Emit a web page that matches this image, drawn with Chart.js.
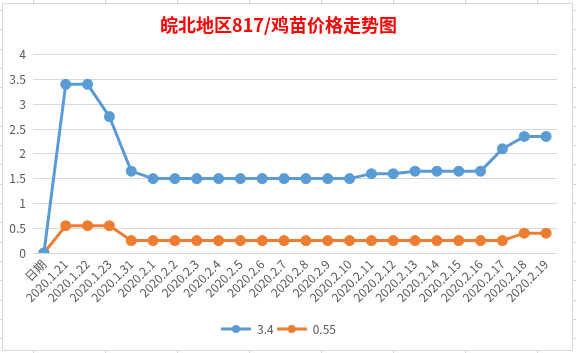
<!DOCTYPE html>
<html lang="zh">
<head>
    <meta charset="UTF-8">
    <title>皖北地区817/鸡苗价格走势图</title>
    <script src="https://cdn.jsdelivr.net/npm/chart.js"></script>
    <style>
        html, body {
            margin: 0;
            padding: 0;
            background: #fff;
        }
        .chart-container {
            width: 576px;
            height: 353px;
            position: relative;
        }
    </style>
</head>
<body>
    <div class="chart-container">
        <canvas id="lineChart"></canvas>
    </div>

    <script>
        // datos
        const categories = ['日期', '2020.1.21', '2020.1.22', '2020.1.23', '2020.1.31', '2020.2.1', '2020.2.2',
            '2020.2.3', '2020.2.4', '2020.2.5', '2020.2.6', '2020.2.7', '2020.2.8', '2020.2.9', '2020.2.10',
            '2020.2.11', '2020.2.12', '2020.2.13', '2020.2.14', '2020.2.15', '2020.2.16', '2020.2.17',
            '2020.2.18', '2020.2.19'];
        const series34 = [0, 3.4, 3.4, 2.75, 1.65, 1.5, 1.5, 1.5, 1.5, 1.5, 1.5, 1.5, 1.5, 1.5, 1.5,
            1.6, 1.6, 1.65, 1.65, 1.65, 1.65, 2.1, 2.35, 2.35];
        const series055 = [0, 0.55, 0.55, 0.55, 0.25, 0.25, 0.25, 0.25, 0.25, 0.25, 0.25, 0.25, 0.25, 0.25, 0.25,
            0.25, 0.25, 0.25, 0.25, 0.25, 0.25, 0.25, 0.4, 0.4];
        const seriesNames = ['3.4', '0.55'];
        const yTicks = { min: 0, max: 4, step: 0.5 };

        const BLUE = '#5B9BD5';
        const ORANGE = '#ED7D31';
        const LABEL_COLOR = '#595959';
        const FONT = '"Noto Sans CJK SC", "Noto Sans", sans-serif';

        // icono de leyenda: linea con punto
        function legendIcon(color) {
            const c = document.createElement('canvas');
            c.width = 30;
            c.height = 10;
            const g = c.getContext('2d');
            g.strokeStyle = color;
            g.lineWidth = 3;
            g.beginPath();
            g.moveTo(0, 5);
            g.lineTo(30, 5);
            g.stroke();
            g.fillStyle = color;
            g.beginPath();
            g.arc(15, 5, 4, 0, Math.PI * 2);
            g.fill();
            return c;
        }

        // fondo tipo hoja de calculo y borde del grafico
        const sheetBackground = {
            id: 'sheetBackground',
            beforeDraw(chart) {
                const ctx = chart.ctx;
                const w = chart.width, h = chart.height;
                ctx.save();
                ctx.fillStyle = '#fff';
                ctx.fillRect(0, 0, w, h);
                ctx.strokeStyle = '#D4D4D4';
                ctx.lineWidth = 1;
                ctx.beginPath();
                for (let x = 33; x < w; x += 72) {
                    ctx.moveTo(x + 0.5, 0);
                    ctx.lineTo(x + 0.5, h);
                }
                for (let k = 0; 10 + k * 19.3 < h; k++) {
                    const y = Math.round(10 + k * 19.3) + 0.5;
                    ctx.moveTo(0, y);
                    ctx.lineTo(w, y);
                }
                ctx.stroke();
                ctx.fillStyle = '#fff';
                ctx.fillRect(2, 3, 571, 348);
                ctx.strokeStyle = '#D9D9D9';
                ctx.strokeRect(2.5, 3.5, 570, 347);
                ctx.restore();
            }
        };

        const ctx = document.getElementById('lineChart').getContext('2d');
        new Chart(ctx, {
            type: 'line',
            data: {
                labels: categories,
                datasets: [{
                    label: seriesNames[0],
                    data: series34,
                    borderColor: BLUE,
                    backgroundColor: BLUE,
                    borderWidth: 3,
                    pointRadius: 4,
                    pointHoverRadius: 4,
                    tension: 0
                }, {
                    label: seriesNames[1],
                    data: series055,
                    borderColor: ORANGE,
                    backgroundColor: ORANGE,
                    borderWidth: 3,
                    pointRadius: 4,
                    pointHoverRadius: 4,
                    tension: 0
                }]
            },
            options: {
                responsive: true,
                maintainAspectRatio: false,
                animation: false,
                layout: {
                    padding: { top: 0, right: 19, bottom: 8, left: 0 }
                },
                scales: {
                    x: {
                        offset: true,
                        grid: { display: false, drawTicks: false },
                        border: { display: false },
                        ticks: {
                            autoSkip: false,
                            minRotation: 45,
                            maxRotation: 45,
                            padding: 4,
                            color: LABEL_COLOR,
                            font: { family: FONT, size: 12 }
                        },
                        afterFit(scale) { scale.height = 67; }
                    },
                    y: {
                        min: yTicks.min,
                        max: yTicks.max,
                        grid: { color: '#D9D9D9', drawTicks: false },
                        border: { display: false },
                        ticks: {
                            stepSize: yTicks.step,
                            padding: 7,
                            color: LABEL_COLOR,
                            font: { family: FONT, size: 12 },
                            callback: v => String(Number(v))
                        },
                        afterFit(scale) { scale.width = 33; }
                    }
                },
                plugins: {
                    title: {
                        display: true,
                        text: '皖北地区817/鸡苗价格走势图',
                        color: '#FF0000',
                        font: { family: FONT, size: 18, weight: 'bold' },
                        padding: { top: 14, bottom: 19 }
                    },
                    legend: {
                        position: 'bottom',
                        labels: {
                            usePointStyle: true,
                            pointStyleWidth: 30,
                            padding: 3,
                            color: LABEL_COLOR,
                            font: { family: FONT, size: 12 },
                            generateLabels(chart) {
                                const items = Chart.defaults.plugins.legend.labels.generateLabels(chart);
                                items.forEach((it, i) => {
                                    it.pointStyle = legendIcon(i === 0 ? BLUE : ORANGE);
                                });
                                return items;
                            }
                        }
                    },
                    tooltip: { enabled: false }
                }
            },
            plugins: [sheetBackground]
        });
    </script>
</body>
</html>
